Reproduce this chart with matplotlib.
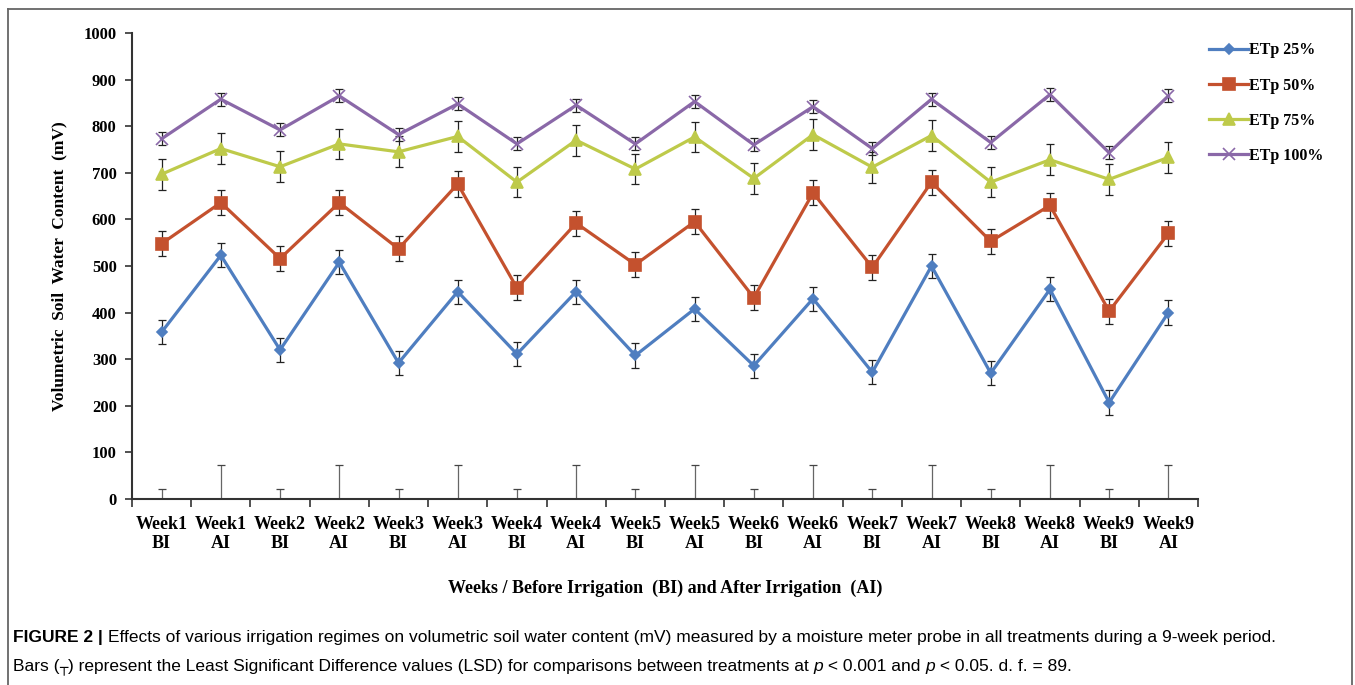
import matplotlib
matplotlib.use("Agg")
import matplotlib.pyplot as plt
from matplotlib.lines import Line2D
import numpy as np

# data (mV)
weeks = ["Week1", "Week1", "Week2", "Week2", "Week3", "Week3", "Week4", "Week4", "Week5",
         "Week5", "Week6", "Week6", "Week7", "Week7", "Week8", "Week8", "Week9", "Week9"]
phase = ["BI", "AI"] * 9

etp25 = [358, 523, 320, 508, 292, 445, 311, 445, 308, 408, 286, 430, 272, 500, 270, 450, 207, 400]
etp50 = [548, 636, 516, 636, 537, 676, 453, 592, 503, 595, 432, 657, 497, 680, 553, 630, 403, 570]
etp75 = [697, 752, 713, 762, 745, 778, 680, 770, 708, 777, 688, 782, 712, 780, 680, 728, 686, 733]
etp100 = [773, 858, 792, 865, 782, 848, 762, 845, 762, 853, 760, 842, 752, 858, 765, 868, 743, 865]

err25 = 26
err50 = 27
err75 = 33
err100 = 14

lsd = [22, 72] * 9

series = [
    ("ETp 25%", etp25, err25, "#4F7EC0", "D", 5.5),
    ("ETp 50%", etp50, err50, "#C4512E", "s", 8),
    ("ETp 75%", etp75, err75, "#BECA4A", "^", 8),
    ("ETp 100%", etp100, err100, "#8A68A8", "x", 8),
]

serif = ["Liberation Serif", "DejaVu Serif"]
narrow = ["Liberation Sans Narrow", "Liberation Sans", "DejaVu Sans"]

W, H = 1355, 685
fig = plt.figure(figsize=(W / 100, H / 100), dpi=100)
ax = fig.add_axes([132 / W, 1 - 499 / H, (1198 - 132) / W, (499 - 33) / H])

x = np.arange(len(weeks))

handles = []
for name, vals, err, col, mk, ms in series:
    ax.errorbar(x, vals, yerr=err, fmt="none", ecolor="#222222", elinewidth=0.9,
                capsize=2.6, capthick=0.9, zorder=2)
    ax.plot(x, vals, color=col, lw=2.3, marker=mk, ms=ms, mec=col, mfc=col,
            mew=1.2, zorder=3)
    handles.append(Line2D([], [], color=col, lw=2.3, marker=mk, ms=ms, mec=col,
                          mfc=col, mew=1.2))

# LSD bars standing on the x axis
ax.vlines(x, 0, lsd, color="#666666", lw=0.9, zorder=1)
ax.plot(x, lsd, ls="none", marker="_", ms=6, mew=0.9, color="#444444", zorder=1)

ax.set_xlim(-0.5, len(weeks) - 0.5)
ax.set_ylim(0, 1000)
ax.set_yticks(range(0, 1001, 100))
ax.set_xticks(x)
ax.set_xticklabels([f"{w}\n{p}" for w, p in zip(weeks, phase)],
                   fontfamily=serif, fontweight="bold", fontsize=13, linespacing=1.15)
ax.set_xticks(np.arange(-0.5, len(weeks)), minor=True)
ax.tick_params(axis="x", which="major", length=0, pad=12)
ax.tick_params(axis="x", which="minor", length=6, width=1.2, direction="out", color="#333333")
ax.tick_params(axis="y", length=5, width=1.2, direction="out", color="#333333", pad=6)
for lab in ax.get_yticklabels():
    lab.set_fontfamily(serif)
    lab.set_fontweight("bold")
    lab.set_fontsize(12)

for s in ["top", "right"]:
    ax.spines[s].set_visible(False)
for s in ["left", "bottom"]:
    ax.spines[s].set_color("#333333")
    ax.spines[s].set_linewidth(1.5)

ax.set_ylabel("Volumetric  Soil  Water  Content  (mV)", fontfamily=serif,
              fontweight="bold", fontsize=12.5, labelpad=12)
fig.text(665 / W, 1 - 588 / H, "Weeks / Before Irrigation  (BI) and After Irrigation  (AI)",
         fontfamily=serif, fontweight="bold", fontsize=13, ha="center", va="center")

fig.legend(handles, [s[0] for s in series], loc="upper left",
           bbox_to_anchor=(1203 / W, 1 - 36 / H), frameon=False,
           prop={"family": serif, "weight": "bold", "size": 11.5},
           handlelength=2.4, handletextpad=0.1, labelspacing=1.2, borderaxespad=0)

# outer frame
fc = "#666666"
fig.add_artist(Line2D([8 / W, 8 / W], [0, 1 - 9 / H], color=fc, lw=1.3, transform=fig.transFigure))
fig.add_artist(Line2D([1352 / W, 1352 / W], [0, 1 - 9 / H], color=fc, lw=1.3, transform=fig.transFigure))
fig.add_artist(Line2D([8 / W, 1352 / W], [1 - 9 / H, 1 - 9 / H], color=fc, lw=1.3, transform=fig.transFigure))

# caption drawn as runs of text
renderer = fig.canvas.get_renderer()

cap1 = [("FIGURE 2", {"weight": "bold"}), (" | ", {"weight": "bold"}),
        ("Effects of various irrigation regimes on volumetric soil water content (mV) measured by a "
         "moisture meter probe in all treatments during a 9-week period.", {})]
cap2 = [("Bars (", {}), ("\u252c", {"family": ["DejaVu Sans"], "size": 10}),
        (") represent the Least Significant Difference values (LSD) for comparisons between "
         "treatments at ", {}),
        ("p", {"style": "italic"}), (" < 0.001 and ", {}), ("p", {"style": "italic"}),
        (" < 0.05. d. f. = 89.", {})]


def run_text(x0, y0, parts, size=12.5):
    xx = x0
    for txt, kw in parts:
        kw = dict(kw)
        fam = kw.pop("family", narrow)
        sz = kw.pop("size", size)
        t = fig.text(xx, y0, txt, fontsize=sz, va="baseline", ha="left", family=fam, **kw)
        bb = t.get_window_extent(renderer=renderer)
        xx = xx + bb.width / W


run_text(13 / W, 1 - 642 / H, cap1)
run_text(13 / W, 1 - 671 / H, cap2)

fig.savefig("out.png", dpi=100)
